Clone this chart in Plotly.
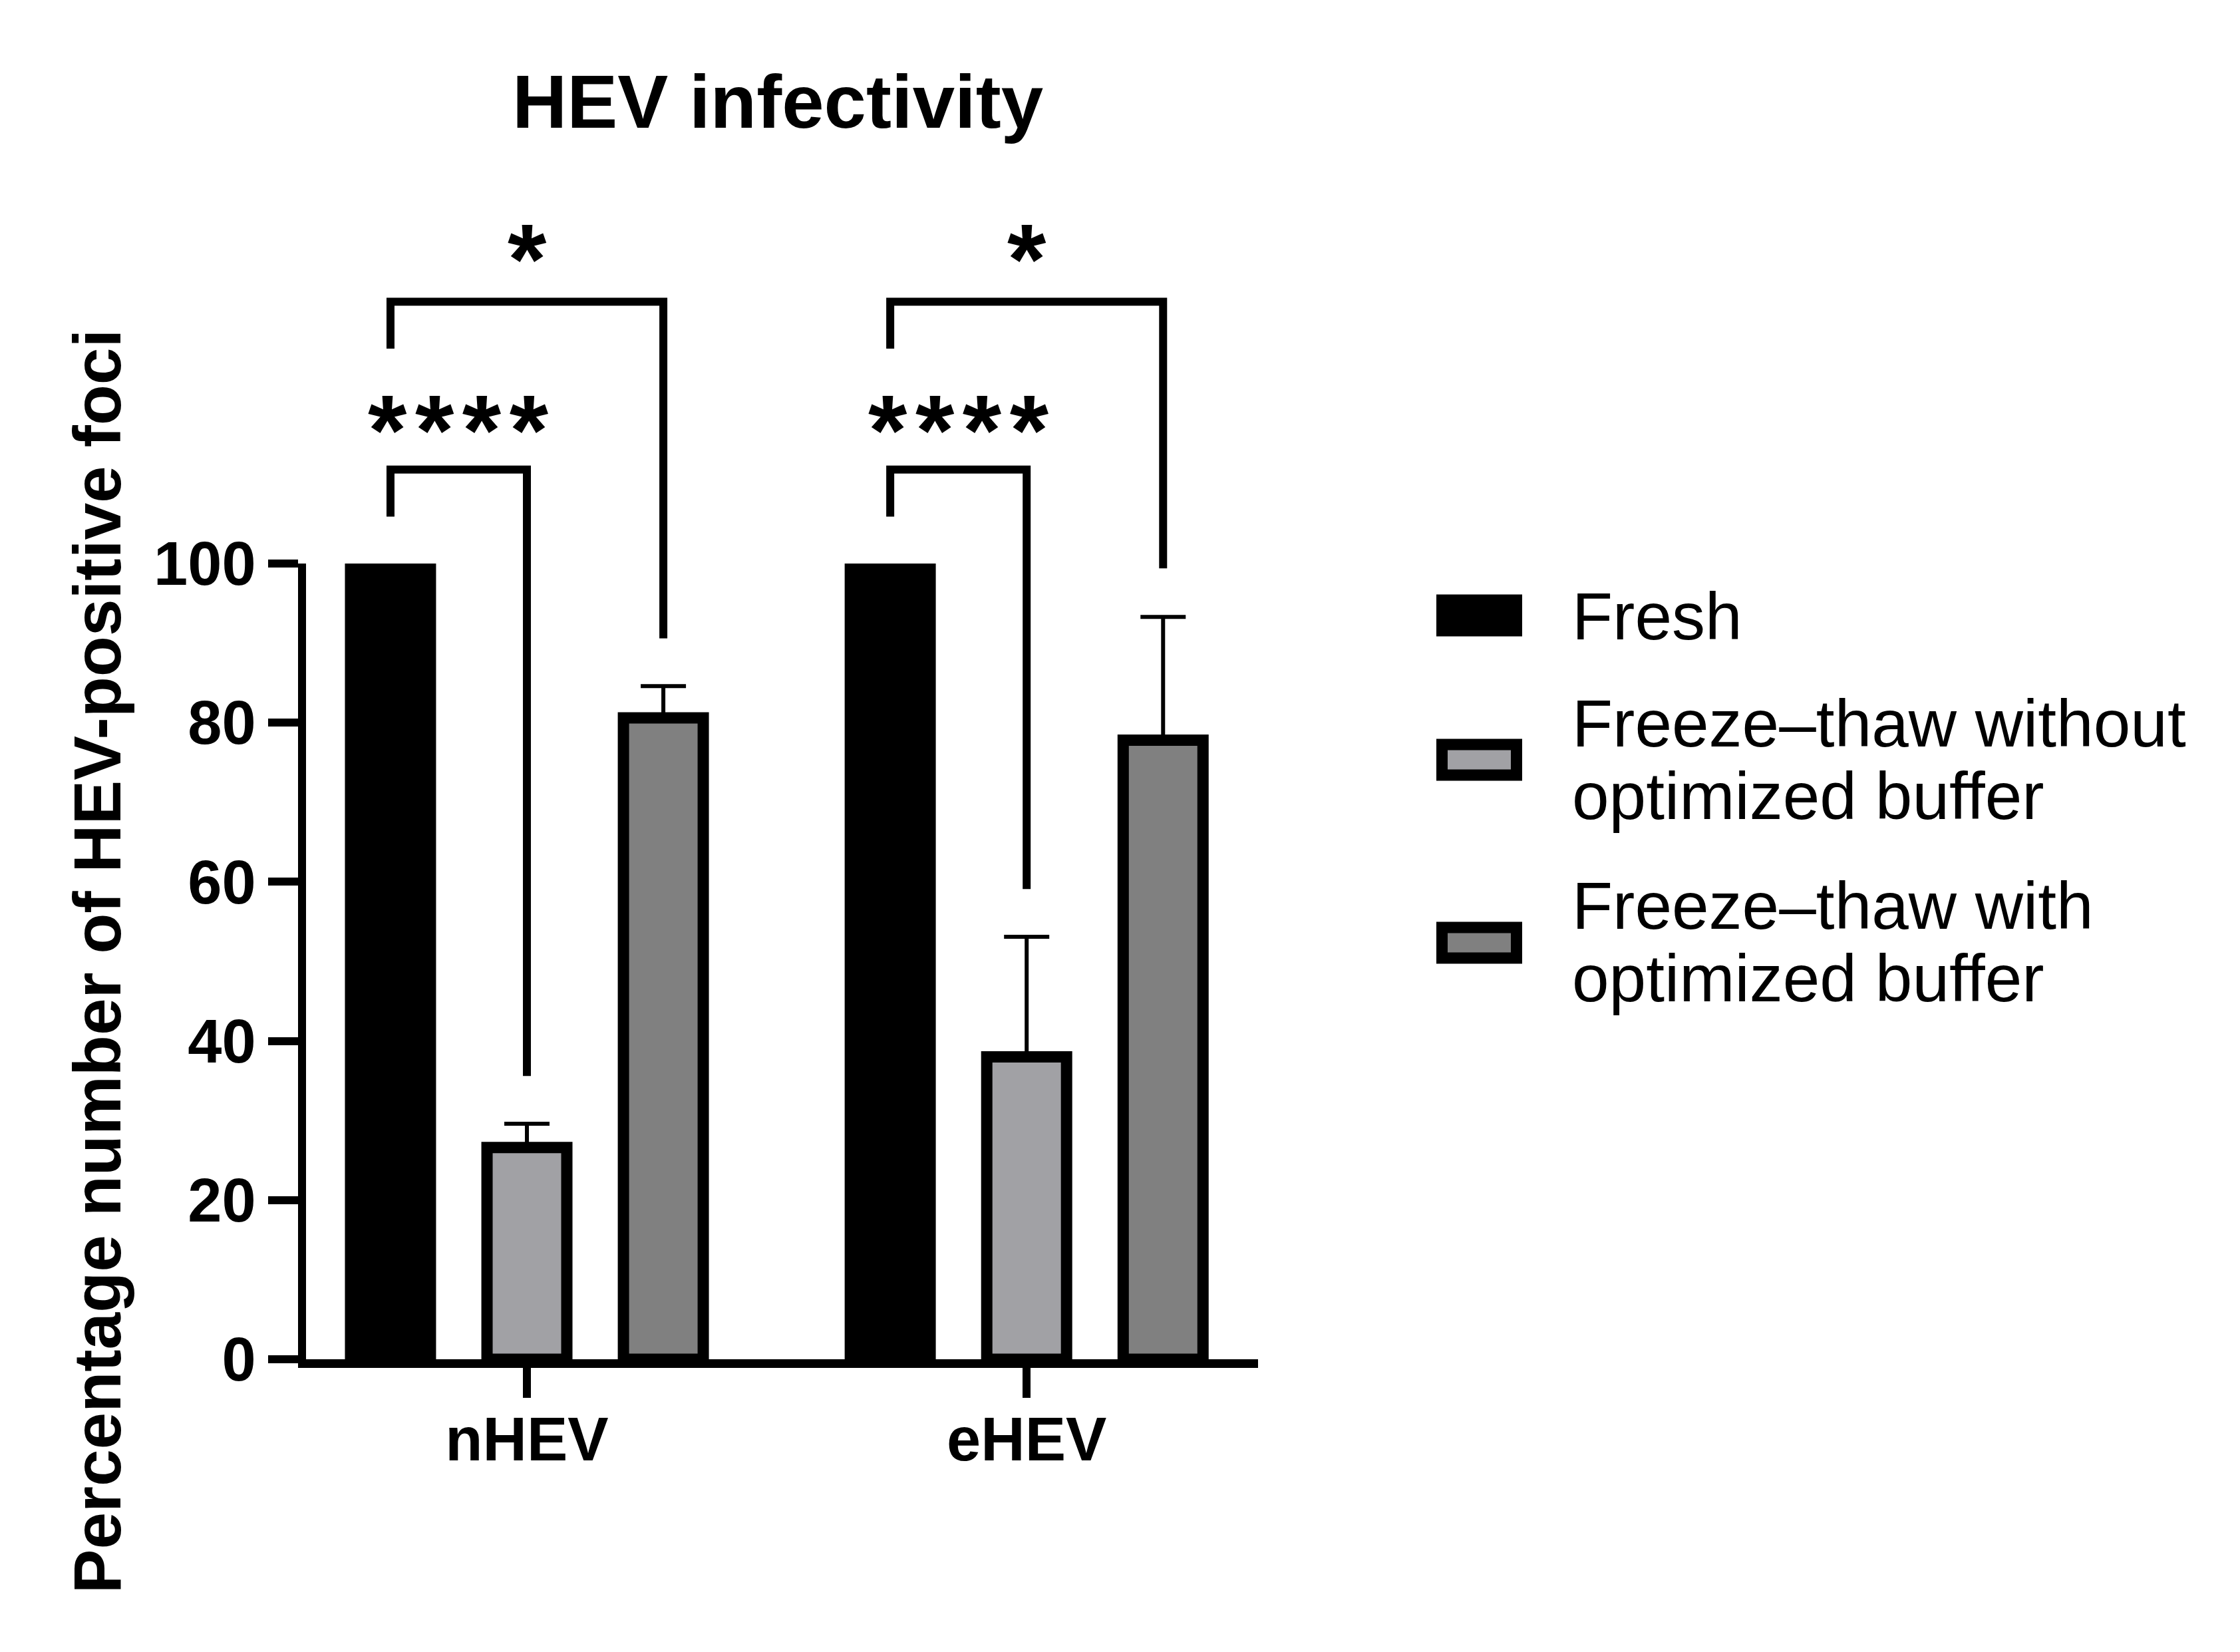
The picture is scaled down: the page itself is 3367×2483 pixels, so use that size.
import plotly.graph_objects as go

# ---------------- data ----------------
groups = ["nHEV", "eHEV"]
group_pos = [0, 1]
series_names = ["Fresh",
                "Freeze–thaw without optimized buffer",
                "Freeze–thaw with optimized buffer"]
legend_lines = [["Fresh"],
                ["Freeze–thaw without", "optimized buffer"],
                ["Freeze–thaw with", "optimized buffer"]]
fresh = [100, 100]
without_buffer = [26.6, 38.0]
with_buffer = [80.6, 77.8]
without_err = [3.0, 15.1]
with_err = [4.0, 15.5]
y_ticks = [0, 20, 40, 60, 80, 100]

# significance brackets (group, bar a, bar b, bracket level, left end, right end, label, label level)
sig_group = [0, 0, 1, 1]
sig_from = [0, 0, 0, 0]
sig_to = [1, 2, 1, 2]
sig_top = [111.8, 132.9, 111.8, 132.9]
sig_left_end = [105.9, 127.0, 105.9, 127.0]
sig_right_end = [35.6, 90.6, 59.1, 99.4]
sig_label = ["\u200a".join("****"), "*", "\u200a".join("****"), "*"]
sig_label_level = [116.7, 138.2, 116.7, 138.2]

# ---------------- style ----------------
colors = ["#000000", "#a1a1a5", "#808080"]
FONT = "Liberation Sans"
W, H = 3367, 2483
L, R, T, B = 452, 1484, 250, 448
pw, ph = W - L - R, H - T - B
y_top_px = 839                      # pixel row of 100 %
dom_top = (H - B - y_top_px) / ph   # y-domain fraction holding 0..100
bargap, bargroupgap = 0.181, 0.415
LW = 17


def px_x(px):
    return (px - L) / pw


def px_y(py):
    return (H - B - py) / ph


values = [fresh, without_buffer, with_buffer]
errors = [None, without_err, with_err]

fig = go.Figure()
for i, name in enumerate(series_names):
    kw = {}
    if errors[i] is not None:
        kw["error_y"] = dict(type="data", array=errors[i], arrayminus=[0] * len(groups),
                             symmetric=False, color="black", thickness=6, width=34)
    fig.add_trace(go.Bar(
        x=group_pos, y=values[i], name=name, showlegend=False,
        marker=dict(color=colors[i], line=dict(color="black", width=LW)),
        **kw))

# helper trace for the overlay axis carrying the brackets
fig.add_trace(go.Scatter(x=[None], y=[None], yaxis="y2", showlegend=False, hoverinfo="skip"))

slot = (1 - bargap) / len(series_names)


def bar_center(g, i):
    return group_pos[g] + (i - (len(series_names) - 1) / 2) * slot


for k in range(len(sig_label)):
    xa = bar_center(sig_group[k], sig_from[k])
    xb = bar_center(sig_group[k], sig_to[k])
    fig.add_shape(type="path", xref="x", yref="y2",
                  path=f"M {xa},{sig_left_end[k]} V {sig_top[k]} H {xb} V {sig_right_end[k]}",
                  line=dict(color="black", width=12))
    fig.add_annotation(x=(xa + xb) / 2, y=sig_label_level[k], xref="x", yref="y2",
                       text=sig_label[k], showarrow=False, xanchor="center", yanchor="middle",
                       font=dict(family=FONT, size=150, color="black", weight="bold"))

# custom legend (large swatches)
sw_x0, sw_x1 = 2151, 2280
sw_h = 63
sw_centers = [917, 1134, 1409]
line_centers = [[918], [1079, 1188], [1353, 1462]]
text_x = 2353
for i in range(len(series_names)):
    c = sw_centers[i]
    fig.add_shape(type="rect", xref="paper", yref="paper",
                  x0=px_x(sw_x0 + LW / 2), x1=px_x(sw_x1 - LW / 2),
                  y0=px_y(c + sw_h / 2 - LW / 2), y1=px_y(c - sw_h / 2 + LW / 2),
                  fillcolor=colors[i], line=dict(color="black", width=LW))
    for txt, yc in zip(legend_lines[i], line_centers[i]):
        fig.add_annotation(x=px_x(text_x), y=px_y(yc), xref="paper", yref="paper",
                           text=txt, showarrow=False, xanchor="left", yanchor="middle",
                           font=dict(family=FONT, size=100, color="black"))

fig.update_layout(
    width=W, height=H,
    margin=dict(l=L, r=R, t=T, b=B, autoexpand=False),
    paper_bgcolor="white", plot_bgcolor="rgba(0,0,0,0)",
    barmode="group", bargap=bargap, bargroupgap=bargroupgap,
    showlegend=False,
    title=dict(text="HEV infectivity", x=1161 / W, xanchor="center", xref="container",
               y=1 - 144 / H, yanchor="middle", yref="container",
               font=dict(family=FONT, size=114, color="black", weight="bold")),
    xaxis=dict(range=[-0.442, 1.463], tickvals=group_pos, ticktext=groups,
               showline=True, linecolor="black", linewidth=13,
               ticks="outside", ticklen=45, tickwidth=12, tickcolor="black",
               ticklabelstandoff=-16,
               showgrid=False, zeroline=False, anchor="y",
               tickfont=dict(family=FONT, size=92, color="black", weight="bold")),
    yaxis=dict(domain=[0, dom_top], range=[0, 100], tickvals=y_ticks,
               showline=True, linecolor="black", linewidth=12,
               ticks="outside", ticklen=45, tickwidth=12, tickcolor="black",
               showgrid=False, zeroline=False,
               tickfont=dict(family=FONT, size=92, color="black", weight="bold"),
               title=dict(text="Percentage number of HEV-positive foci", standoff=21,
                          font=dict(family=FONT, size=100, color="black", weight="bold"))),
    yaxis2=dict(domain=[0, 1], range=[0, 100 / dom_top], anchor="x", visible=False,
                showgrid=False, zeroline=False),
)

fig.write_html("out.html")
